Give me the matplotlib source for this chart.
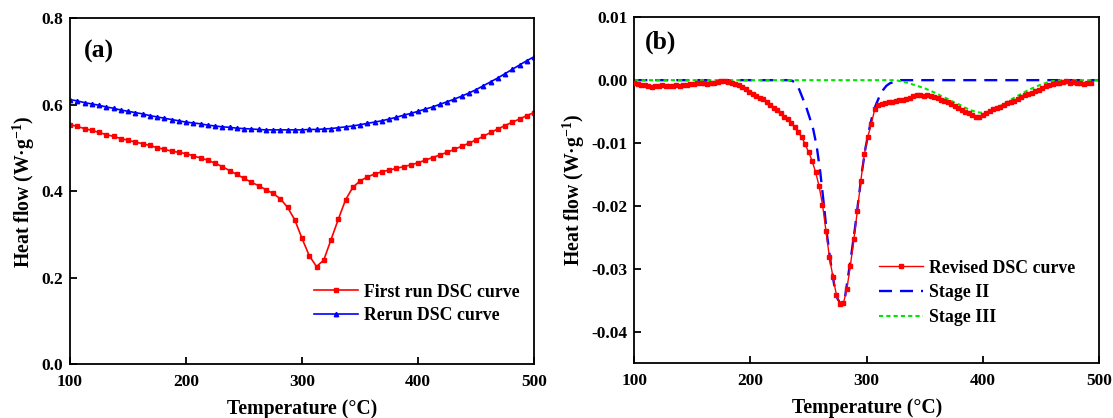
import numpy as np
import matplotlib
matplotlib.use('Agg')
import matplotlib.pyplot as plt

# DSC curves, heat flow in W/g
# (a) first run and rerun, sampled every 6.25 C
temp_a = np.linspace(100, 500, 65)
first_run = [0.554, 0.550, 0.545, 0.541, 0.536, 0.531, 0.527, 0.522, 0.518, 0.514,
             0.510, 0.506, 0.501, 0.497, 0.493, 0.490, 0.487, 0.482, 0.477, 0.472,
             0.465, 0.457, 0.448, 0.439, 0.430, 0.421, 0.413, 0.404, 0.395, 0.383,
             0.363, 0.334, 0.291, 0.251, 0.226, 0.241, 0.288, 0.335, 0.380, 0.409,
             0.424, 0.433, 0.440, 0.445, 0.449, 0.453, 0.457, 0.461, 0.466, 0.472,
             0.478, 0.484, 0.490, 0.497, 0.504, 0.511, 0.519, 0.527, 0.536, 0.544,
             0.552, 0.560, 0.567, 0.575, 0.582]
rerun = [0.612, 0.609, 0.605, 0.602, 0.599, 0.595, 0.592, 0.588, 0.585, 0.582,
         0.579, 0.575, 0.572, 0.569, 0.566, 0.563, 0.560, 0.558, 0.556, 0.553,
         0.551, 0.549, 0.548, 0.546, 0.545, 0.544, 0.543, 0.542, 0.542, 0.542,
         0.542, 0.542, 0.542, 0.543, 0.543, 0.544, 0.545, 0.547, 0.549, 0.551,
         0.554, 0.557, 0.560, 0.563, 0.567, 0.571, 0.576, 0.580, 0.585, 0.590,
         0.595, 0.601, 0.607, 0.613, 0.620, 0.627, 0.635, 0.644, 0.653, 0.662,
         0.672, 0.682, 0.692, 0.702, 0.711]

# (b) revised curve (x1e-3 W/g), every 3 C
temp_b = np.arange(100, 494, 3)
revised = [-0.5, -0.6, -0.7, -0.8, -0.9, -1.1, -1.0, -0.9, -0.8, -0.9,
           -1.0, -0.9, -0.8, -0.9, -0.7, -0.8, -0.6, -0.6, -0.5, -0.4,
           -0.5, -0.6, -0.5, -0.4, -0.3, -0.1, -0.2, -0.3, -0.5, -0.6,
           -0.8, -1.1, -1.4, -1.9, -2.2, -2.5, -2.8, -3.0, -3.5, -4.0,
           -4.5, -4.8, -5.3, -5.8, -6.2, -6.8, -7.5, -8.3, -9.0, -10.2,
           -11.4, -12.8, -14.6, -16.8, -19.8, -24.0, -28.2, -31.3, -34.2, -35.6,
           -35.5, -33.2, -29.5, -25.3, -20.8, -16.0, -11.8, -9.0, -7.0, -4.6,
           -4.0, -3.8, -3.6, -3.5, -3.4, -3.3, -3.2, -3.1, -3.0, -2.8,
           -2.6, -2.3, -2.4, -2.5, -2.3, -2.6, -2.7, -2.9, -3.1, -3.3,
           -3.5, -3.8, -4.1, -4.4, -4.7, -5.0, -5.3, -5.6, -5.8, -5.9,
           -5.6, -5.3, -4.9, -4.6, -4.4, -4.2, -4.0, -3.7, -3.5, -3.3,
           -3.0, -2.7, -2.4, -2.2, -2.0, -1.8, -1.5, -1.2, -1.0, -0.8,
           -0.6, -0.5, -0.4, -0.3, -0.1, -0.4, -0.3, -0.5, -0.4, -0.6,
           -0.5, -0.5]

# fitted stages (x1e-3 W/g)
temp_s2 = [100, 233] + list(range(236, 330, 3)) + [500]
stage2 = [0, 0,
          -0.1, -0.5, -1.5, -2.9, -4.3, -6.0, -7.8, -10.5, -14.5, -19.5,
          -24.8, -29.0, -32.5, -34.8, -35.7, -35.0, -31.3, -27.5, -23.5, -19.0,
          -14.5, -10.8, -8.0, -5.6, -3.9, -2.6, -1.6, -0.9, -0.5, -0.3,
          -0.1, 0,
          0]
temp_s3 = [100] + list(range(325, 471, 5)) + [500]
stage3 = [0,
          0, -0.2, -0.4, -0.7, -1.0, -1.3, -1.7, -2.1, -2.6, -3.0,
          -3.5, -3.9, -4.4, -4.8, -5.1, -5.2, -5.0, -4.6, -4.1, -3.6,
          -3.0, -2.5, -2.0, -1.5, -1.1, -0.7, -0.4, -0.15, -0.05, 0,
          0]

plt.rcParams['font.family'] = 'serif'
plt.rcParams['font.serif'] = ['Liberation Serif', 'DejaVu Serif']
plt.rcParams['font.weight'] = 'bold'
plt.rcParams['axes.labelweight'] = 'bold'
plt.rcParams['mathtext.fontset'] = 'custom'
plt.rcParams['mathtext.rm'] = 'Liberation Serif:bold'
plt.rcParams['mathtext.bf'] = 'Liberation Serif:bold'
plt.rcParams['mathtext.default'] = 'bf'
plt.rcParams['axes.unicode_minus'] = False

RED = '#ff0000'
BLUE = '#0000ff'
GREEN = '#00e600'

fig = plt.figure(figsize=(11.13, 4.18), dpi=100)
ax1 = fig.add_axes([0.0629, 0.1285, 0.4169, 0.8277])
ax2 = fig.add_axes([0.5699, 0.1316, 0.4175, 0.8270])


def style_axes(ax):
    for sp in ax.spines.values():
        sp.set_linewidth(1.3)
    ax.tick_params(direction='in', length=5, width=1.3, labelsize=12.5,
                   top=False, right=False)
    ax.tick_params(axis='x', pad=7)
    ax.tick_params(axis='y', pad=5)
    for lab in ax.get_xticklabels() + ax.get_yticklabels():
        lab.set_fontweight('bold')
    ax.set_xlabel('Temperature (°C)', fontsize=14.2, labelpad=6.5)
    ax.set_ylabel('Heat flow (W·g$^{-1}$)', fontsize=14.2, labelpad=3)


leg_kw = dict(loc='upper left', frameon=False, fontsize=12.75,
              handlelength=2.5, handletextpad=0.32, borderpad=0,
              borderaxespad=0, numpoints=1)

# (a)
ax1.plot(temp_a, first_run, color=RED, lw=1.2, marker='s', ms=2.6,
         label='First run DSC curve')
ax1.plot(temp_a, rerun, color=BLUE, lw=1.2, marker='^', ms=3.2,
         label='Rerun DSC curve')
ax1.set_xlim(100, 500)
ax1.set_ylim(0.0, 0.8)
ax1.set_xticks([100, 200, 300, 400, 500])
ax1.set_yticks([0.0, 0.2, 0.4, 0.6, 0.8])
ax1.yaxis.set_major_formatter(matplotlib.ticker.FormatStrFormatter('%.1f'))
style_axes(ax1)
ax1.text(0.03, 0.905, '(a)', transform=ax1.transAxes, fontsize=18.5,
         fontweight='bold', va='center', ha='left')
ax1.legend(bbox_to_anchor=(0.526, 0.233), labelspacing=0.36, **leg_kw)

# (b)
scale = 1e-3
ax2.plot(temp_b, np.array(revised) * scale, color=RED, lw=1.0, marker='s',
         ms=2.4, label='Revised DSC curve', zorder=3)
ax2.plot(temp_s2, np.array(stage2) * scale, color=BLUE, lw=1.7,
         dashes=(5.5, 3.4), label='Stage II', zorder=2)
ax2.plot(temp_s3, np.array(stage3) * scale, color=GREEN, lw=1.5,
         dashes=(2.0, 1.5), label='Stage III', zorder=2)
ax2.set_xlim(100, 500)
ax2.set_ylim(-0.045, 0.01)
ax2.set_xticks([100, 200, 300, 400, 500])
ax2.set_yticks([0.01, 0.0, -0.01, -0.02, -0.03, -0.04])
ax2.yaxis.set_major_formatter(matplotlib.ticker.FormatStrFormatter('%.2f'))
style_axes(ax2)
ax2.text(0.023, 0.928, '(b)', transform=ax2.transAxes, fontsize=18.5,
         fontweight='bold', va='center', ha='left')
ax2.legend(bbox_to_anchor=(0.527, 0.299), labelspacing=0.44, **leg_kw)

fig.savefig('out.png', dpi=100)
